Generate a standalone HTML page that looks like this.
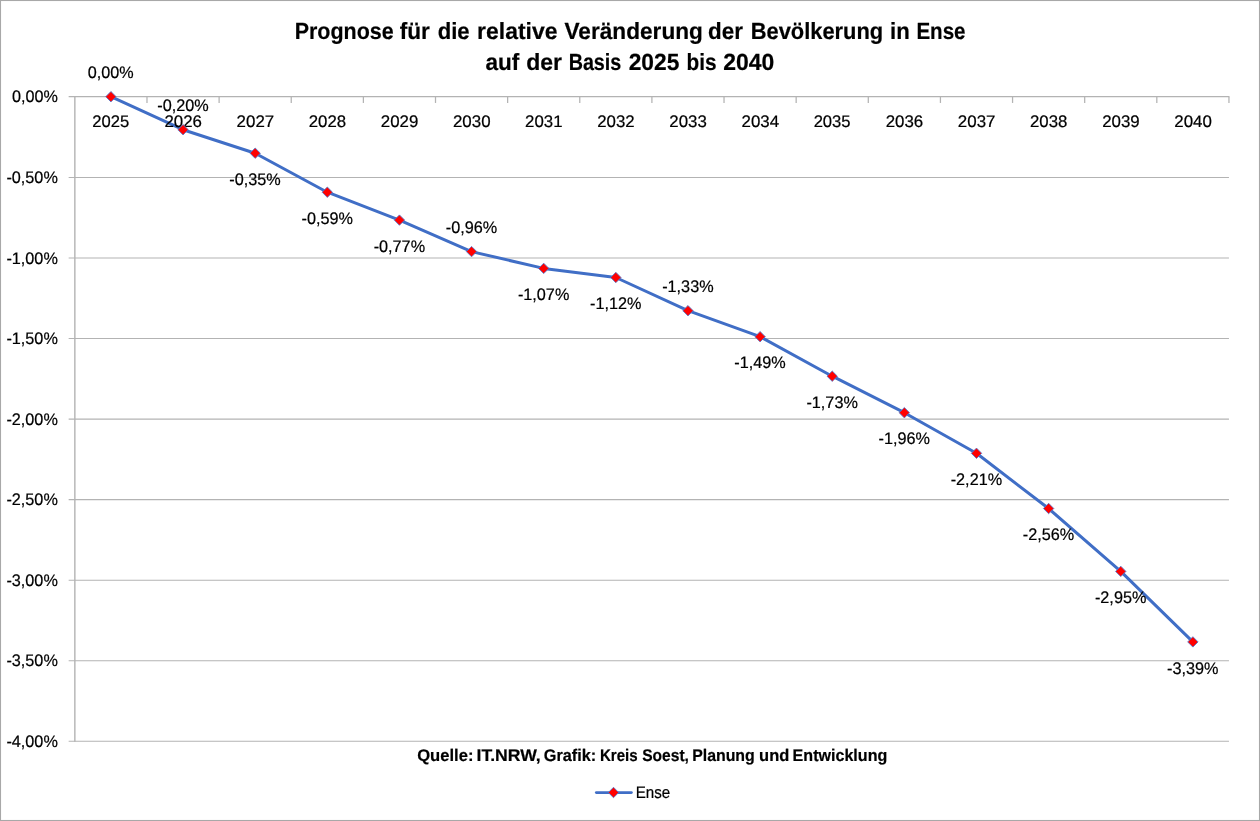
<!DOCTYPE html>
<html lang="de">
<head>
<meta charset="utf-8">
<title>Prognose für die relative Veränderung der Bevölkerung in Ense</title>
<style>
html,body{margin:0;padding:0;background:#fff;overflow:hidden}
svg{display:block}
text{white-space:pre}
</style>
</head>
<body>
<svg width="1260" height="821" viewBox="0 0 1260 821" font-family='"Liberation Sans", Arial, sans-serif' fill="#000" text-rendering="geometricPrecision">
<rect x="0" y="0" width="1260" height="821" fill="#fff"/>
<g id="gridlines" stroke="#b3b3b3" stroke-width="1.05" fill="none">
<line x1="68.65" y1="177.53" x2="1228.95" y2="177.53"/>
<line x1="68.65" y1="258.05" x2="1228.95" y2="258.05"/>
<line x1="68.65" y1="338.58" x2="1228.95" y2="338.58"/>
<line x1="68.65" y1="419.10" x2="1228.95" y2="419.10"/>
<line x1="68.65" y1="499.62" x2="1228.95" y2="499.62"/>
<line x1="68.65" y1="580.15" x2="1228.95" y2="580.15"/>
<line x1="68.65" y1="660.68" x2="1228.95" y2="660.68"/>
<line x1="68.65" y1="741.20" x2="1228.95" y2="741.20"/>
</g>
<g id="x-ticks" stroke="#b3b3b3" stroke-width="1.25" fill="none">
<line x1="146.98" y1="96.65" x2="146.98" y2="102.95"/>
<line x1="219.11" y1="96.65" x2="219.11" y2="102.95"/>
<line x1="291.24" y1="96.65" x2="291.24" y2="102.95"/>
<line x1="363.38" y1="96.65" x2="363.38" y2="102.95"/>
<line x1="435.51" y1="96.65" x2="435.51" y2="102.95"/>
<line x1="507.64" y1="96.65" x2="507.64" y2="102.95"/>
<line x1="579.77" y1="96.65" x2="579.77" y2="102.95"/>
<line x1="651.90" y1="96.65" x2="651.90" y2="102.95"/>
<line x1="724.03" y1="96.65" x2="724.03" y2="102.95"/>
<line x1="796.16" y1="96.65" x2="796.16" y2="102.95"/>
<line x1="868.29" y1="96.65" x2="868.29" y2="102.95"/>
<line x1="940.43" y1="96.65" x2="940.43" y2="102.95"/>
<line x1="1012.56" y1="96.65" x2="1012.56" y2="102.95"/>
<line x1="1084.69" y1="96.65" x2="1084.69" y2="102.95"/>
<line x1="1156.82" y1="96.65" x2="1156.82" y2="102.95"/>
<line x1="1228.95" y1="96.65" x2="1228.95" y2="102.95"/>
</g>
<g id="axes" stroke="#b3b3b3" stroke-width="1.4" fill="none">
<line x1="68.65" y1="96.65" x2="1229.45" y2="96.65"/>
<line x1="74.85" y1="96.65" x2="74.85" y2="741.70"/>
</g>
<polyline id="series-line" points="110.92,96.70 183.05,129.70 255.18,153.20 327.31,192.20 399.44,220.10 471.57,251.60 543.70,268.40 615.83,277.50 687.97,310.70 760.10,336.70 832.23,376.20 904.36,412.70 976.49,453.30 1048.62,508.50 1120.75,571.40 1192.88,641.90" fill="none" stroke="#406ec6" stroke-width="3.0" stroke-linejoin="round" stroke-linecap="round"/>
<g id="x-axis-labels" stroke="#000" stroke-width="0.22" stroke-linejoin="round">
<text x="92.33" y="126.50" font-size="16.73" textLength="36.96" lengthAdjust="spacingAndGlyphs">2025</text>
<text x="164.45" y="126.50" font-size="16.73" textLength="37.49" lengthAdjust="spacingAndGlyphs">2026</text>
<text x="236.58" y="126.50" font-size="16.73" textLength="37.62" lengthAdjust="spacingAndGlyphs">2027</text>
<text x="308.72" y="126.50" font-size="16.73" textLength="37.39" lengthAdjust="spacingAndGlyphs">2028</text>
<text x="380.84" y="126.50" font-size="16.73" textLength="37.53" lengthAdjust="spacingAndGlyphs">2029</text>
<text x="452.97" y="126.50" font-size="16.73" textLength="37.59" lengthAdjust="spacingAndGlyphs">2030</text>
<text x="525.11" y="126.50" font-size="16.73" textLength="37.38" lengthAdjust="spacingAndGlyphs">2031</text>
<text x="597.24" y="126.50" font-size="16.73" textLength="37.43" lengthAdjust="spacingAndGlyphs">2032</text>
<text x="669.37" y="126.50" font-size="16.73" textLength="37.44" lengthAdjust="spacingAndGlyphs">2033</text>
<text x="741.50" y="126.50" font-size="16.73" textLength="37.56" lengthAdjust="spacingAndGlyphs">2034</text>
<text x="813.64" y="126.50" font-size="16.73" textLength="36.96" lengthAdjust="spacingAndGlyphs">2035</text>
<text x="885.76" y="126.50" font-size="16.73" textLength="37.49" lengthAdjust="spacingAndGlyphs">2036</text>
<text x="957.89" y="126.50" font-size="16.73" textLength="37.62" lengthAdjust="spacingAndGlyphs">2037</text>
<text x="1030.03" y="126.50" font-size="16.73" textLength="37.39" lengthAdjust="spacingAndGlyphs">2038</text>
<text x="1102.16" y="126.50" font-size="16.73" textLength="37.53" lengthAdjust="spacingAndGlyphs">2039</text>
<text x="1174.29" y="126.50" font-size="16.73" textLength="37.59" lengthAdjust="spacingAndGlyphs">2040</text>
</g>
<g id="y-axis-labels" stroke="#000" stroke-width="0.22" stroke-linejoin="round">
<text x="11.96" y="102.15" font-size="16.73" textLength="45.88" lengthAdjust="spacingAndGlyphs">0,00%</text>
<text x="6.38" y="183.03" font-size="16.73" textLength="51.45" lengthAdjust="spacingAndGlyphs">-0,50%</text>
<text x="6.38" y="263.55" font-size="16.73" textLength="51.45" lengthAdjust="spacingAndGlyphs">-1,00%</text>
<text x="6.38" y="344.08" font-size="16.73" textLength="51.45" lengthAdjust="spacingAndGlyphs">-1,50%</text>
<text x="6.38" y="424.60" font-size="16.73" textLength="51.45" lengthAdjust="spacingAndGlyphs">-2,00%</text>
<text x="6.38" y="505.12" font-size="16.73" textLength="51.45" lengthAdjust="spacingAndGlyphs">-2,50%</text>
<text x="6.38" y="585.65" font-size="16.73" textLength="51.45" lengthAdjust="spacingAndGlyphs">-3,00%</text>
<text x="6.38" y="666.18" font-size="16.73" textLength="51.45" lengthAdjust="spacingAndGlyphs">-3,50%</text>
<text x="6.38" y="746.70" font-size="16.73" textLength="51.45" lengthAdjust="spacingAndGlyphs">-4,00%</text>
</g>
<g id="series-markers" fill="#ff0000" stroke="#4f7ad0" stroke-width="0.85">
<path d="M110.92 91.50L116.12 96.70L110.92 101.90L105.72 96.70Z"/>
<path d="M183.05 124.50L188.25 129.70L183.05 134.90L177.85 129.70Z"/>
<path d="M255.18 148.00L260.38 153.20L255.18 158.40L249.98 153.20Z"/>
<path d="M327.31 187.00L332.51 192.20L327.31 197.40L322.11 192.20Z"/>
<path d="M399.44 214.90L404.64 220.10L399.44 225.30L394.24 220.10Z"/>
<path d="M471.57 246.40L476.77 251.60L471.57 256.80L466.37 251.60Z"/>
<path d="M543.70 263.20L548.90 268.40L543.70 273.60L538.50 268.40Z"/>
<path d="M615.83 272.30L621.03 277.50L615.83 282.70L610.63 277.50Z"/>
<path d="M687.97 305.50L693.17 310.70L687.97 315.90L682.77 310.70Z"/>
<path d="M760.10 331.50L765.30 336.70L760.10 341.90L754.90 336.70Z"/>
<path d="M832.23 371.00L837.43 376.20L832.23 381.40L827.03 376.20Z"/>
<path d="M904.36 407.50L909.56 412.70L904.36 417.90L899.16 412.70Z"/>
<path d="M976.49 448.10L981.69 453.30L976.49 458.50L971.29 453.30Z"/>
<path d="M1048.62 503.30L1053.82 508.50L1048.62 513.70L1043.42 508.50Z"/>
<path d="M1120.75 566.20L1125.95 571.40L1120.75 576.60L1115.55 571.40Z"/>
<path d="M1192.88 636.70L1198.08 641.90L1192.88 647.10L1187.68 641.90Z"/>
</g>
<g id="data-labels" stroke="#000" stroke-width="0.22" stroke-linejoin="round">
<text x="87.87" y="78.10" font-size="16.73" textLength="45.88" lengthAdjust="spacingAndGlyphs">0,00%</text>
<text x="157.24" y="111.10" font-size="16.73" textLength="51.45" lengthAdjust="spacingAndGlyphs">-0,20%</text>
<text x="229.37" y="184.90" font-size="16.73" textLength="51.45" lengthAdjust="spacingAndGlyphs">-0,35%</text>
<text x="301.50" y="223.90" font-size="16.73" textLength="51.45" lengthAdjust="spacingAndGlyphs">-0,59%</text>
<text x="373.64" y="251.80" font-size="16.73" textLength="51.45" lengthAdjust="spacingAndGlyphs">-0,77%</text>
<text x="445.77" y="233.00" font-size="16.73" textLength="51.45" lengthAdjust="spacingAndGlyphs">-0,96%</text>
<text x="517.90" y="300.10" font-size="16.73" textLength="51.45" lengthAdjust="spacingAndGlyphs">-1,07%</text>
<text x="590.03" y="309.20" font-size="16.73" textLength="51.45" lengthAdjust="spacingAndGlyphs">-1,12%</text>
<text x="662.16" y="292.10" font-size="16.73" textLength="51.45" lengthAdjust="spacingAndGlyphs">-1,33%</text>
<text x="734.29" y="368.40" font-size="16.73" textLength="51.45" lengthAdjust="spacingAndGlyphs">-1,49%</text>
<text x="806.42" y="407.90" font-size="16.73" textLength="51.45" lengthAdjust="spacingAndGlyphs">-1,73%</text>
<text x="878.55" y="444.40" font-size="16.73" textLength="51.45" lengthAdjust="spacingAndGlyphs">-1,96%</text>
<text x="950.69" y="485.00" font-size="16.73" textLength="51.45" lengthAdjust="spacingAndGlyphs">-2,21%</text>
<text x="1022.82" y="540.20" font-size="16.73" textLength="51.45" lengthAdjust="spacingAndGlyphs">-2,56%</text>
<text x="1094.95" y="603.10" font-size="16.73" textLength="51.45" lengthAdjust="spacingAndGlyphs">-2,95%</text>
<text x="1167.08" y="673.60" font-size="16.73" textLength="51.45" lengthAdjust="spacingAndGlyphs">-3,39%</text>
</g>
<g id="title" stroke="#000" stroke-width="0.2" stroke-linejoin="round">
<text y="38.80" font-size="23.42" font-weight="bold"><tspan x="294.65" textLength="98.99" lengthAdjust="spacingAndGlyphs">Prognose</tspan> <tspan x="399.70" textLength="30.19" lengthAdjust="spacingAndGlyphs">für</tspan> <tspan x="437.72" textLength="31.96" lengthAdjust="spacingAndGlyphs">die</tspan> <tspan x="477.11" textLength="80.34" lengthAdjust="spacingAndGlyphs">relative</tspan> <tspan x="564.53" textLength="138.35" lengthAdjust="spacingAndGlyphs">Veränderung</tspan> <tspan x="708.00" textLength="34.90" lengthAdjust="spacingAndGlyphs">der</tspan> <tspan x="750.72" textLength="132.49" lengthAdjust="spacingAndGlyphs">Bevölkerung</tspan> <tspan x="890.05" textLength="19.71" lengthAdjust="spacingAndGlyphs">in</tspan> <tspan x="916.41" textLength="49.16" lengthAdjust="spacingAndGlyphs">Ense</tspan></text>
<text y="70.20" font-size="23.42" font-weight="bold"><tspan x="485.38" textLength="33.87" lengthAdjust="spacingAndGlyphs">auf</tspan> <tspan x="526.18" textLength="35.84" lengthAdjust="spacingAndGlyphs">der</tspan> <tspan x="568.67" textLength="52.64" lengthAdjust="spacingAndGlyphs">Basis</tspan> <tspan x="628.70" textLength="50.72" lengthAdjust="spacingAndGlyphs">2025</tspan> <tspan x="686.55" textLength="30.03" lengthAdjust="spacingAndGlyphs">bis</tspan> <tspan x="723.20" textLength="51.07" lengthAdjust="spacingAndGlyphs">2040</tspan></text>
</g>
<g id="source" stroke="#000" stroke-width="0.2" stroke-linejoin="round">
<text y="761.30" font-size="16.86" font-weight="bold"><tspan x="417.14" textLength="56.34" lengthAdjust="spacingAndGlyphs">Quelle:</tspan> <tspan x="476.51" textLength="64.25" lengthAdjust="spacingAndGlyphs">IT.NRW,</tspan> <tspan x="543.85" textLength="52.41" lengthAdjust="spacingAndGlyphs">Grafik:</tspan> <tspan x="599.88" textLength="37.75" lengthAdjust="spacingAndGlyphs">Kreis</tspan> <tspan x="642.17" textLength="46.76" lengthAdjust="spacingAndGlyphs">Soest,</tspan> <tspan x="692.13" textLength="62.64" lengthAdjust="spacingAndGlyphs">Planung</tspan> <tspan x="759.07" textLength="30.20" lengthAdjust="spacingAndGlyphs">und</tspan> <tspan x="792.62" textLength="94.66" lengthAdjust="spacingAndGlyphs">Entwicklung</tspan></text>
</g>
<g id="legend">
<line x1="596.3" y1="792.5" x2="631.4" y2="792.5" stroke="#406ec6" stroke-width="2.75" stroke-linecap="round"/>
<g fill="#ff0000" stroke="#4f7ad0" stroke-width="0.85"><path d="M613.50 787.30L618.70 792.50L613.50 797.70L608.30 792.50Z"/></g>
<g stroke="#000" stroke-width="0.22" stroke-linejoin="round"><text x="635.65" y="798.10" font-size="16.73" textLength="34.52" lengthAdjust="spacingAndGlyphs">Ense</text></g>
</g>
<rect id="chart-border" x="0.5" y="0.5" width="1259" height="820" fill="none" stroke="#a8a8a8" stroke-width="1.1"/>
</svg>
</body>
</html>
